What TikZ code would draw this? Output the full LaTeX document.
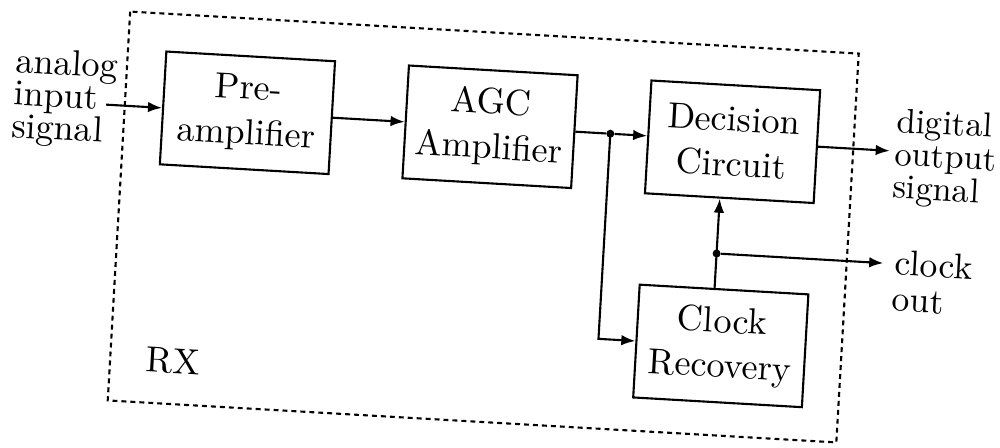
\documentclass[tikz,border=0pt]{standalone}
\usepackage{fontspec}
\setmainfont{lmroman10-regular}[Extension=.otf]
\usetikzlibrary{arrows.meta}
\lineskiplimit=-100pt
\begin{document}
\begin{tikzpicture}[x=0.02cm,y=-0.02cm,
  blk/.style={draw, line width=1.2pt, minimum width=3.38cm, minimum height=2.26cm, align=center, font=\fontsize{20.6}{25.6}\selectfont, inner sep=0pt},
  lbl/.style={align=left, font=\fontsize{20.6}{18.6}\selectfont, inner sep=0pt},
  conn/.style={line width=1.2pt, -{Latex[length=8pt,width=6pt]}},
  wire/.style={line width=1.2pt},
  dot/.style={circle, fill, inner sep=0pt, minimum size=0.16cm},
  frame/.style={line width=1.2pt, dash pattern=on 2.8pt off 2.3pt}]
\useasboundingbox (0,0) rectangle (1000,447);
\begin{scope}[rotate around={-3.3:(500,223)}, transform shape]
  \draw[frame] (118.6,33.2) rectangle (848.4,422.7);
  \node[blk] (pre) at (241.5,127.5) {Pre-\\amplifier};
  \node[blk] (agc) at (484.5,127.5) {AGC\\Amplifier};
  \node[blk] (dec) at (727.5,128.5) {Decision\\Circuit};
  \node[blk] (clk) at (727.5,333) {Clock\\Recovery};
  \node[font=\fontsize{20.6}{25}\selectfont, inner sep=0pt] (rx) at (181.5,380) {RX};
  \node[lbl, anchor=west] (ain) at (7,124) {analog\\input\\signal};
  \node[lbl, anchor=west, font=\fontsize{19.6}{18.8}\selectfont] (dig) at (890,134) {digital\\output\\signal};
  \node[lbl, anchor=west, font=\fontsize{20.3}{20.5}\selectfont] (co) at (896,258) {clock\\out};
  \coordinate (inS) at (100,127.5);
  \coordinate (dout) at (885,128.5);
  \coordinate (cout) at (885,241);
  \node[dot] (j1) at (605,127.5) {};
  \node[dot] (j2) at (718,241) {};
  \draw[conn] (inS) -- (pre.west);
  \draw[conn] (pre) -- (agc);
  \draw[wire] (agc.east) -- (j1);
  \draw[conn] (j1) -- (j1 -| dec.west);
  \draw[conn] (j1.center) |- (clk.west);
  \draw[wire] (j2 |- clk.north) -- (j2.center);
  \draw[conn] (j2.center) -- (j2 |- dec.south);
  \draw[conn] (j2) -- (cout);
  \draw[conn] (dout -| dec.east) -- (dout);
\end{scope}
\end{tikzpicture}
\end{document}
